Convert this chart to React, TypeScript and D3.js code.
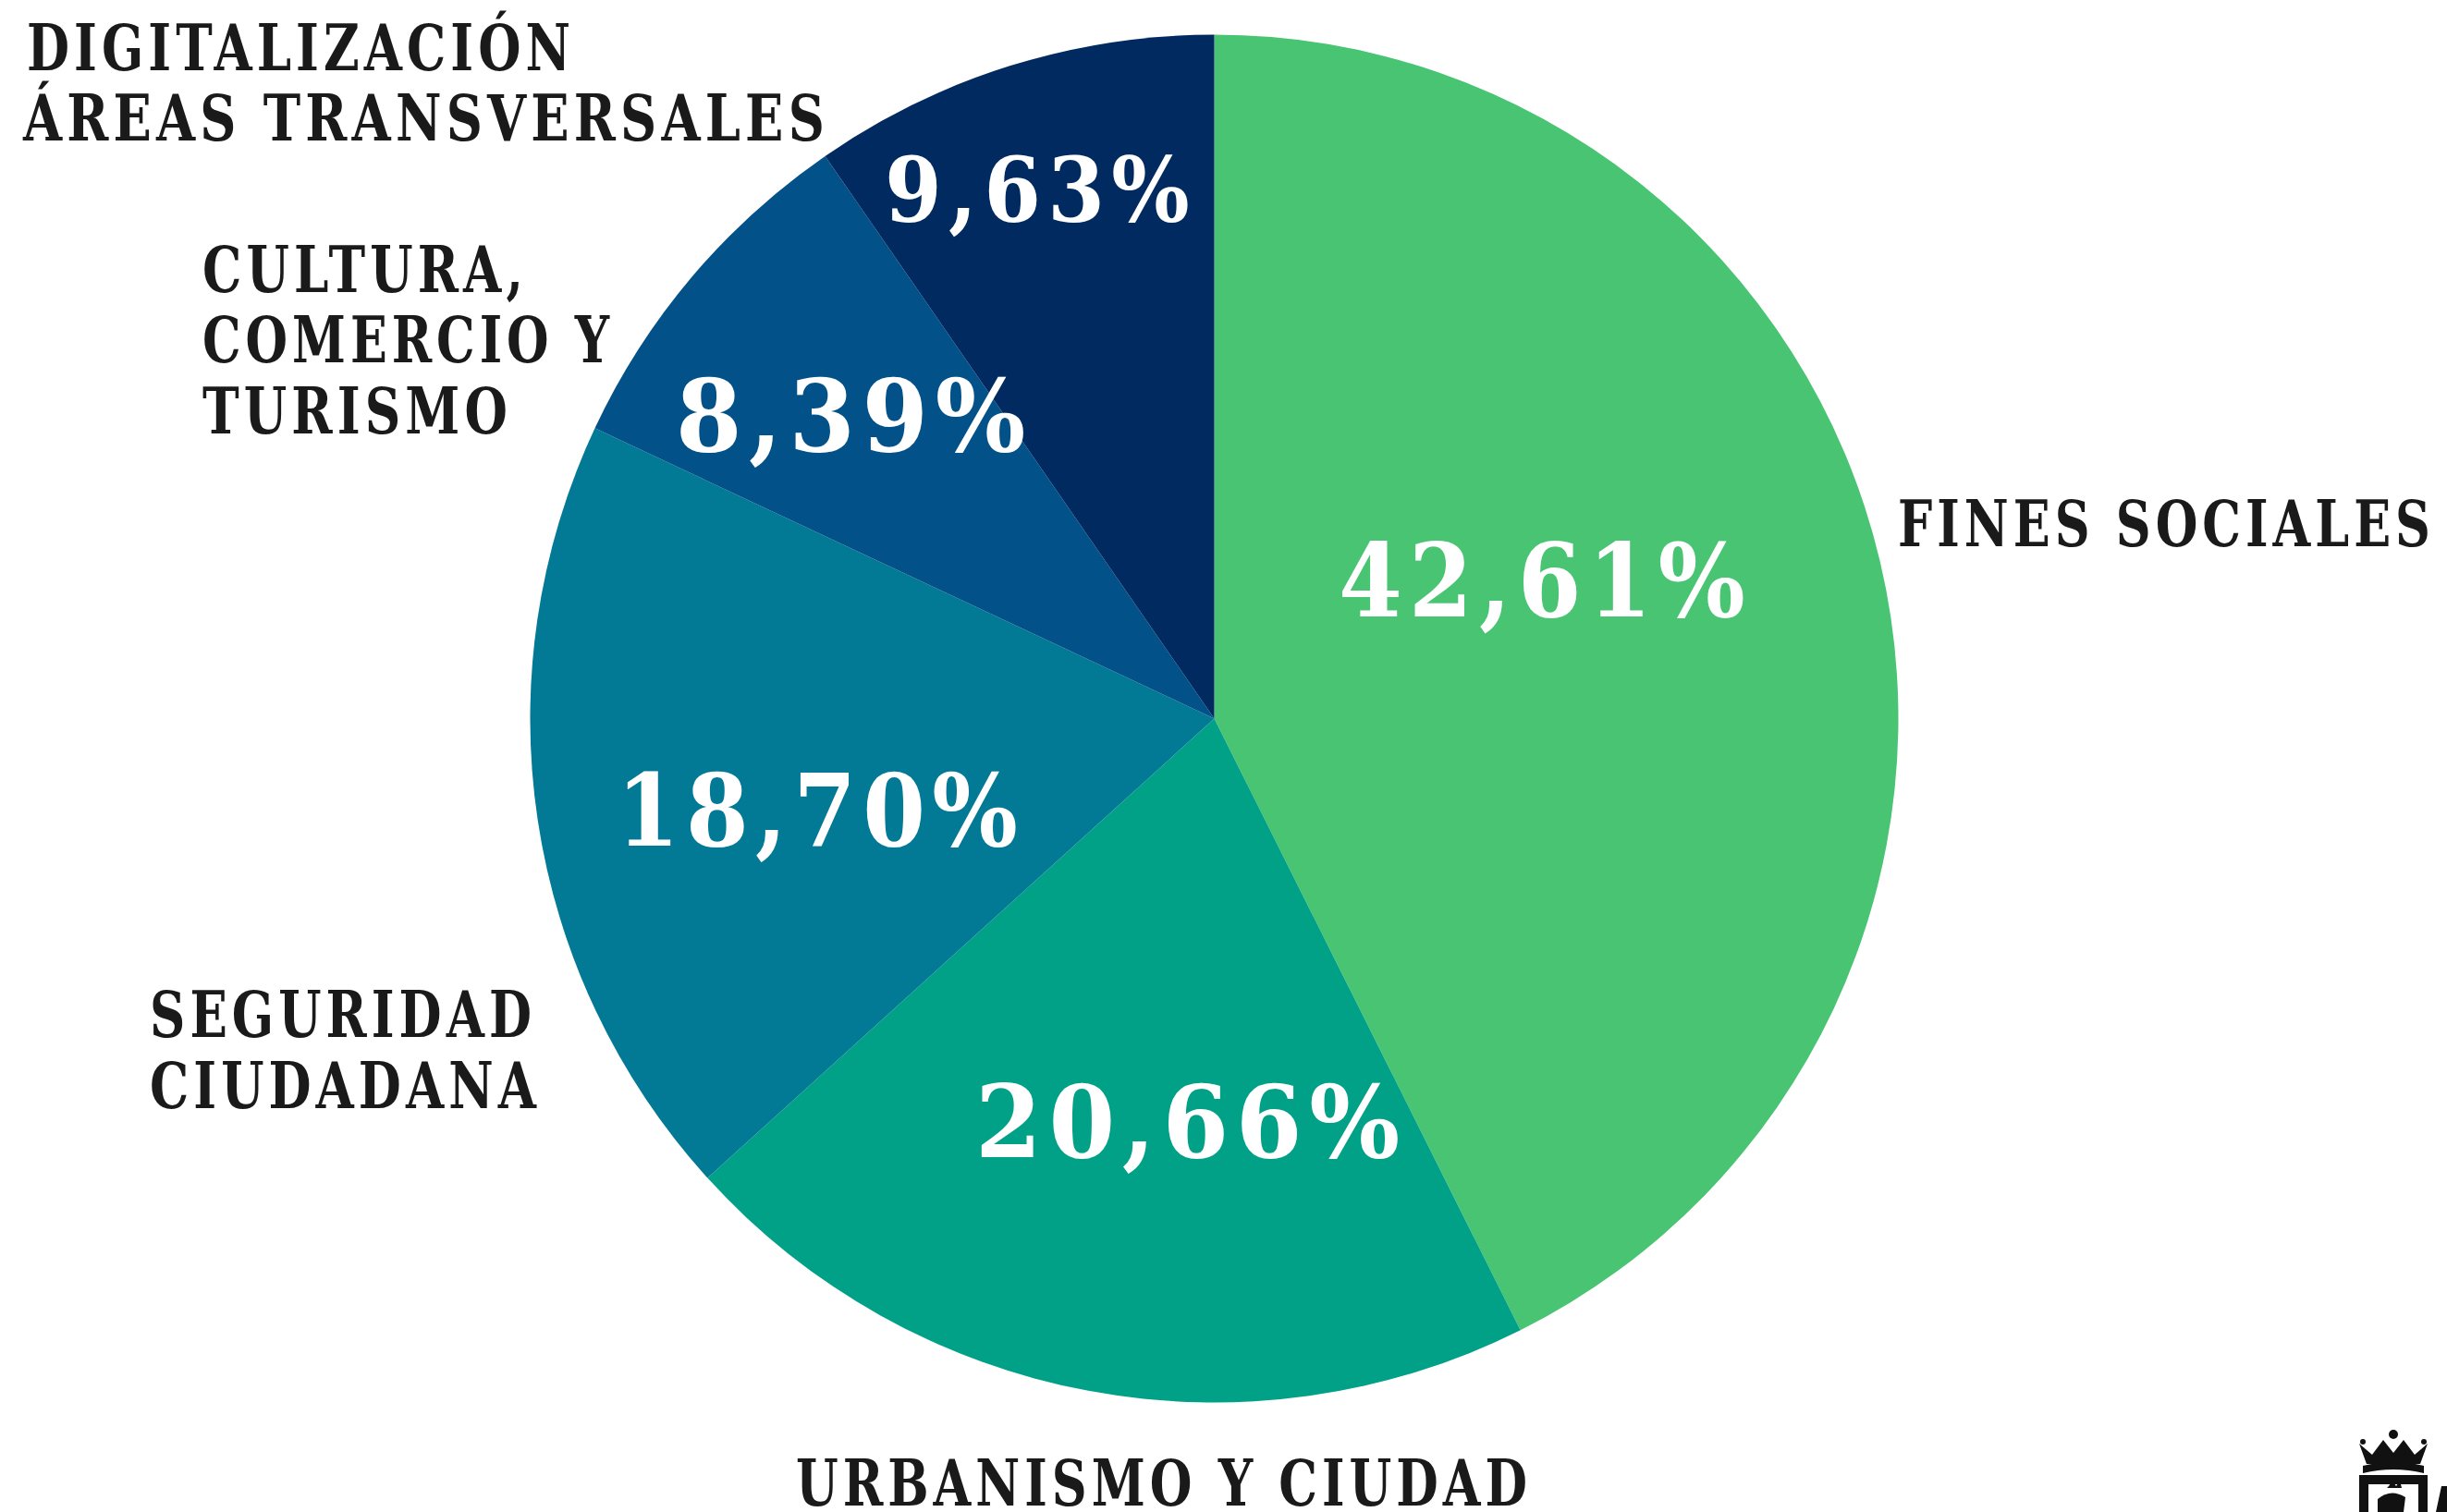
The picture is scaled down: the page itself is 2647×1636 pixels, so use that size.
import React from 'react';
import * as d3 from 'd3';

// ---- data ----
const categories = [
  'FINES SOCIALES',
  'URBANISMO Y CIUDAD',
  'SEGURIDAD CIUDADANA',
  'CULTURA, COMERCIO Y TURISMO',
  'DIGITALIZACIÓN ÁREAS TRANSVERSALES',
];
const shares = [42.61, 20.66, 18.7, 8.39, 9.63];
const percentLabels = ['42,61%', '20,66%', '18,70%', '8,39%', '9,63%'];
const labelLines = [
  ['FINES SOCIALES'],
  ['URBANISMO Y CIUDAD'],
  ['SEGURIDAD', 'CIUDADANA'],
  ['CULTURA,', 'COMERCIO Y', 'TURISMO'],
  ['DIGITALIZACIÓN', 'ÁREAS TRANSVERSALES'],
];

// ---- layout / style ----
const W = 2647;
const H = 1636;
const CX = 1313.5;
const CY = 777.5;
const R = 740;
const colors = ['#48c472', '#00a187', '#027a95', '#025289', '#012a60'];

const PCT_LS = 8;
const LBL_LS = 6;

// percent label placement: [left x, baseline, ink width, fontSize]
const pctLayout: [number, number, number, number][] = [
  [1448, 667, 439, 110],
  [1055, 1252, 459, 108],
  [667, 915, 433, 108],
  [731, 488, 378, 108],
  [957, 240, 329, 98],
];
// category label placement: per line [x, baseline, ink width]
const catLayout: [number, number, number][][] = [
  [[2053, 591, 575]],
  [[861, 1629, 790]],
  [[162, 1122, 412], [162, 1199, 417]],
  [[219, 316, 346], [219, 392, 439], [219, 469, 329]],
  [[29, 76, 587], [25, 152, 866]],
];

const labelFont = "'DejaVu Serif Condensed', 'DejaVu Serif', serif";
const pctFont = "'DejaVu Serif', serif";

export default function App() {
  const pie = d3
    .pie<number>()
    .sort(null)
    .value((d) => d);
  const arcs = pie(shares);
  const arc = d3.arc<d3.PieArcDatum<number>>().innerRadius(0).outerRadius(R);

  return (
    <svg
      width={W}
      height={H}
      viewBox={`0 0 ${W} ${H}`}
      style={{ position: 'absolute', left: 0, top: 0, background: '#fff' }}
    >
      <rect width={W} height={H} fill="#fff" />
      <g transform={`translate(${CX},${CY})`}>
        {arcs.map((a, i) => (
          <path key={categories[i]} d={arc(a) || ''} fill={colors[i]} />
        ))}
      </g>
      {percentLabels.map((t, i) => {
        const [x, y, w, fs] = pctLayout[i];
        return (
          <text
            key={t}
            x={x}
            y={y}
            fill="#fff"
            fontFamily={pctFont}
            fontWeight="bold"
            fontSize={fs}
            letterSpacing={PCT_LS}
            textLength={w + PCT_LS}
            lengthAdjust="spacingAndGlyphs"
          >
            {t}
          </text>
        );
      })}
      {labelLines.map((lines, i) =>
        lines.map((line, j) => {
          const [x, y, w] = catLayout[i][j];
          return (
            <text
              key={`${i}-${j}`}
              x={x}
              y={y}
              fill="#1a1a1a"
              fontFamily={labelFont}
              fontWeight="bold"
              fontSize={70}
              letterSpacing={LBL_LS}
              textLength={w + LBL_LS}
              lengthAdjust="spacingAndGlyphs"
            >
              {line}
            </text>
          );
        })
      )}
      {/* partial coat of arms logo, bottom-right */}
      <g fill="#111">
        <path d="M2552,1562 L2560,1584 L2618,1584 L2626,1562 L2612,1574 L2600,1558 L2589,1572 L2578,1558 L2566,1574 Z" />
        <circle cx="2589" cy="1552" r="5" />
        <circle cx="2556" cy="1560" r="3" />
        <circle cx="2622" cy="1560" r="3" />
        <path d="M2556,1586 Q2589,1578 2622,1586 L2622,1594 Q2589,1586 2556,1594 Z" />
        <rect x="2552" y="1596" width="74" height="50" />
        <rect x="2562" y="1606" width="54" height="40" fill="#fff" />
        <path d="M2572,1622 Q2586,1610 2602,1620 L2600,1636 L2572,1636 Z" />
        <path d="M2584,1608 L2588,1602 L2592,1608 L2596,1602 L2598,1610 L2582,1610 Z" />
        <path d="M2635,1636 L2641,1608 L2647,1608 L2647,1636 Z" />
      </g>
    </svg>
  );
}
